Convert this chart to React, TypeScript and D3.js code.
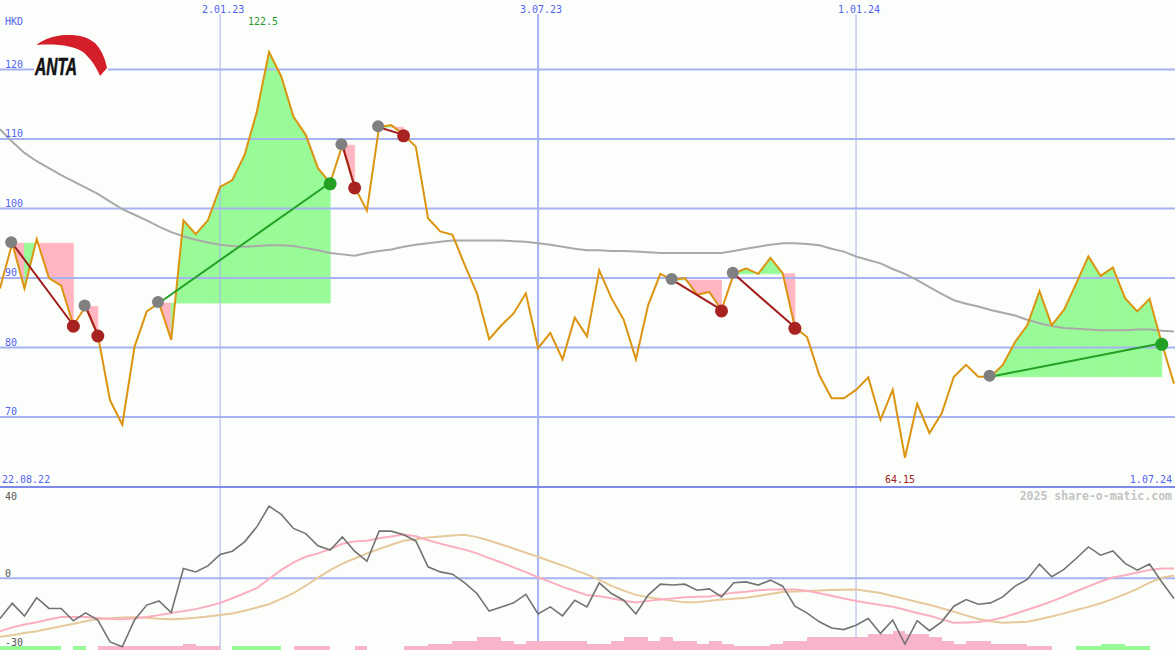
import React from 'react';
import * as d3 from 'd3';

const W = 1175;
const H = 650;

// weekly closes, first week 29.08.22
const price = [88.5, 95.0, 88.5, 95.6, 90.0, 88.9, 83.2, 85.9, 81.8, 72.4,
  68.9, 80.1, 85.2, 86.4, 81.1, 98.3, 96.3, 98.3, 103.1, 104.1,
  107.7, 113.9, 122.5, 119.0, 113.2, 110.6, 105.8, 103.7, 109.1, 103.1,
  99.7, 111.7, 112.0, 110.6, 108.9, 98.6, 96.7, 96.2, 91.9, 87.8,
  81.2, 83.2, 84.9, 87.8, 79.9, 82.1, 78.3, 84.3, 81.6, 91.1,
  87.1, 84.0, 78.3, 86.1, 90.6, 89.7, 90.0, 87.6, 88.0, 85.4,
  90.6, 91.4, 90.6, 92.9, 90.7, 82.9, 81.5, 76.0, 72.7, 72.7,
  73.9, 75.7, 69.6, 73.9, 64.15, 71.9, 67.7, 70.5, 75.8, 77.5,
  75.8, 75.8, 77.5, 80.8, 83.2, 88.1, 83.2, 85.4, 89.2, 93.1,
  90.3, 91.5, 87.1, 85.2, 87.0, 80.6, 74.8];

// long moving average (grey)
const avg = [111.4, 109.6, 108.0, 106.8, 105.8, 104.8, 103.9, 103.0, 102.1, 101.0,
  99.9, 99.1, 98.3, 97.4, 96.6, 96.0, 95.5, 95.1, 94.8, 94.6,
  94.5, 94.6, 94.7, 94.7, 94.6, 94.3, 94.0, 93.6, 93.4, 93.2,
  93.6, 93.9, 94.1, 94.5, 94.8, 95.0, 95.2, 95.4, 95.4, 95.4,
  95.4, 95.4, 95.3, 95.2, 95.0, 94.8, 94.5, 94.2, 94.0, 94.0,
  93.9, 93.9, 93.8, 93.7, 93.6, 93.6, 93.6, 93.6, 93.6, 93.6,
  93.9, 94.2, 94.5, 94.8, 95.0, 95.0, 94.9, 94.7, 94.2, 93.8,
  93.1, 92.6, 92.1, 91.3, 90.6, 89.7, 88.7, 87.7, 86.8, 86.3,
  85.9, 85.4, 85.0, 84.6, 84.0, 83.5, 83.1, 82.8, 82.7, 82.6,
  82.5, 82.5, 82.5, 82.6, 82.6, 82.4, 82.3];

// lower panel: oscillator + two smoothings
const osc = [-18.1, -11.3, -17.0, -8.8, -13.6, -13.6, -19.1, -15.6, -18.8, -28.6,
  -30.8, -18.8, -12.1, -10.2, -15.4, 4.3, 2.8, 5.5, 10.6, 12.1,
  16.3, 23.0, 32.3, 28.6, 22.3, 20.0, 14.5, 12.6, 18.5, 12.1,
  7.6, 21.1, 21.1, 19.5, 16.7, 5.1, 2.8, 1.8, -2.1, -6.9,
  -14.8, -12.9, -11.1, -7.3, -16.1, -12.9, -16.9, -9.9, -12.9, -2.1,
  -6.9, -9.9, -16.1, -7.6, -2.7, -3.1, -2.7, -5.4, -4.8, -8.4,
  -2.1, -1.7, -3.1, -0.9, -3.6, -12.6, -15.7, -19.6, -22.4, -23.1,
  -21.1, -18.1, -24.8, -18.8, -29.6, -19.1, -23.6, -19.6, -12.6, -9.6,
  -11.7, -11.1, -8.4, -3.6, -0.6, 6.3, 0.6, 3.9, 8.8, 14.0,
  10.3, 12.2, 6.6, 3.6, 6.3, -1.7, -9.1];

const signalFast = [-23.8, -22.1, -20.8, -19.8, -18.6, -17.4, -17.4, -17.4, -17.9, -18.3,
  -18.5, -18.0, -17.4, -16.6, -15.6, -14.8, -13.9, -12.6, -11.1, -9.0,
  -6.8, -4.5, -0.4, 3.7, 7.1, 9.6, 11.1, 13.0, 15.4, 16.5,
  16.8, 17.9, 18.7, 19.6, 18.8, 17.0, 15.5, 14.1, 12.8, 11.1,
  9.0, 7.0, 4.8, 2.7, 0.4, -1.7, -3.9, -5.8, -7.6, -8.1,
  -9.0, -10.1, -10.9, -10.2, -9.6, -9.1, -8.6, -8.3, -8.2, -7.4,
  -6.5, -6.1, -5.4, -5.1, -5.1, -5.1, -5.7, -6.8, -7.9, -9.1,
  -10.3, -11.2, -12.1, -12.8, -14.2, -15.6, -16.9, -18.5, -20.0, -19.9,
  -19.7, -18.9, -17.7, -16.0, -14.2, -12.4, -10.4, -8.3, -5.9, -3.7,
  -1.5, 0.3, 1.3, 2.5, 3.7, 4.3, 4.3];

const signalSlow = [-26.3, -25.6, -24.6, -23.8, -22.7, -21.6, -20.5, -19.3, -18.3, -18.0,
  -17.7, -17.5, -17.8, -18.2, -18.5, -18.2, -17.8, -17.2, -16.5, -15.9,
  -14.6, -13.2, -11.7, -9.3, -6.7, -3.4, 0.2, 3.6, 6.5, 8.8,
  11.1, 13.1, 15.0, 16.8, 17.5, 18.2, 18.7, 19.1, 19.5, 18.4,
  16.9, 15.1, 13.3, 11.4, 9.6, 7.6, 5.7, 3.6, 1.7, -0.8,
  -3.5, -5.6, -7.5, -8.6, -9.4, -10.2, -10.8, -10.8, -10.2, -9.6,
  -9.2, -8.8, -8.0, -7.1, -6.2, -6.0, -5.8, -5.5, -5.3, -5.2,
  -5.1, -5.9, -6.7, -8.0, -9.3, -10.7, -11.9, -13.5, -15.1, -16.7,
  -18.3, -19.3, -20.0, -19.8, -19.6, -18.4, -17.2, -15.8, -14.3, -12.9,
  -11.3, -9.3, -7.2, -4.8, -2.0, 0.2, 1.2];

// bottom histogram blocks, + green / - pink
const hist = [1, 1, 1, 1, 1, 0, 1, 0, -1, -1,
  -1, -1, -1, -1, -1, -2, -1, -1, 0, 1,
  1, 1, 1, 0, -1, -1, -1, 0, 0, -1,
  0, 0, 0, -1, -1, -2, -2, -3, -3, -4,
  -4, -3, -2, -3, -3, -3, -3, -3, -2, -2,
  -3, -4, -4, -3, -4, -3, -3, -2, -3, -2,
  -1, -1, -1, -2, -3, -3, -4, -4, -4, -4,
  -4, -5, -5, -6, -5, -5, -4, -3, -2, -3,
  -3, -2, -2, -2, -1, -1, 0, 0, 1, 1,
  2, 2, 1, 1, 0, 0];

// buy (entry) / sell (exit) week indexes
const trades = [
  { entry: 1, exit: 6 },
  { entry: 7, exit: 8 },
  { entry: 13, exit: 27 },
  { entry: 28, exit: 29 },
  { entry: 31, exit: 33 },
  { entry: 55, exit: 59 },
  { entry: 60, exit: 65 },
  { entry: 81, exit: 95 },
];

const priceTicks = [70, 80, 90, 100, 110, 120];
const oscTicks = [40, 0, -30];
const dateTicks = [Date.UTC(2023, 0, 2), Date.UTC(2023, 6, 3), Date.UTC(2024, 0, 1)].map(d => new Date(d));
const firstLabel = '22.08.22';
const lastLabel = '1.07.24';

const start = Date.UTC(2022, 7, 29);
const dates = price.map((_, i) => d3.utcDay.offset(new Date(start), i * 7));

const BG = '#fcfefb';
const GRID = '#a6b2f2';
const BLUE = '#5364f0';
const MONO = '"DejaVu Sans Mono", monospace';

const App: React.FC = () => {
  const x = d3.scaleUtc().domain([dates[0], dates[dates.length - 1]]).range([0, 1174]);
  const y = d3.scaleLinear().domain([60, 130]).range([486.5, 0]);
  const yo = d3.scaleLinear().domain([-30, 40]).range([645, 489]);
  const hb = d3.scaleLinear().domain([0, 6]).range([0, 19]);
  const fmt = d3.utcFormat('%-d.%m.%y');

  const priceLine = d3.line<number>().x((d, i) => x(dates[i])).y(d => y(d));
  const oscLine = d3.line<number>().x((d, i) => x(dates[i])).y(d => yo(d));

  const maxI = d3.maxIndex(price);
  const minI = d3.minIndex(price);

  // trade fills, one segment per week
  const fills: { d: string; up: boolean }[] = [];
  trades.forEach(t => {
    const yE = y(price[t.entry]);
    for (let i = t.entry; i < t.exit; i++) {
      const x0 = x(dates[i]), x1 = x(dates[i + 1]);
      fills.push({
        d: `M${x0},${yE}L${x0},${y(price[i])}L${x1},${y(price[i + 1])}L${x1},${yE}Z`,
        up: price[i + 1] >= price[t.entry],
      });
    }
  });

  return (
    <svg width={W} height={H} style={{ position: 'absolute', left: 0, top: 0 }}>
      <rect width={W} height={H} fill={BG} />

      {fills.map((f, i) => {
        const c = f.up ? '#98fb98' : '#ffb6c1';
        return <path key={i} d={f.d} fill={c} stroke={c} strokeWidth={0.8} />;
      })}

      {/* grid */}
      {priceTicks.map(v => (
        <line key={v} x1={0} x2={W} y1={y(v)} y2={y(v)} stroke={GRID} strokeWidth={2} />
      ))}
      {dateTicks.map(d => (
        <line key={+d} x1={x(d)} x2={x(d)} y1={14} y2={H} stroke={GRID}
          strokeWidth={d.getUTCMonth() === 6 ? 2 : 1} />
      ))}
      <line x1={0} x2={W} y1={487} y2={487} stroke="#7d8ae8" strokeWidth={2} />
      <line x1={0} x2={W} y1={yo(0)} y2={yo(0)} stroke={GRID} strokeWidth={2} />

      <path d={priceLine(avg) || ''} fill="none" stroke="#a9a9a9" strokeWidth={2} />
      <path d={priceLine(price) || ''} fill="none" stroke="#dc9410" strokeWidth={2} />

      {trades.map((t, i) => {
        const up = price[t.exit] > price[t.entry];
        return (
          <g key={i}>
            <line x1={x(dates[t.entry])} y1={y(price[t.entry])} x2={x(dates[t.exit])} y2={y(price[t.exit])}
              stroke={up ? '#23a023' : '#a31c1c'} strokeWidth={2} />
            <circle cx={x(dates[t.entry]) - 1} cy={y(price[t.entry]) - 1} r={6} fill="#808080" />
            <circle cx={x(dates[t.exit])} cy={y(price[t.exit]) + 1} r={6.5} fill={up ? '#23a023' : '#a82222'} />
          </g>
        );
      })}

      {/* lower panel */}
      {hist.map((v, i) => v === 0 ? null : (
        <rect key={i} x={x(dates[i])} width={x(dates[i + 1]) - x(dates[i])}
          y={H - hb(Math.abs(v)) - (Math.abs(v) === 1 ? 0.4 : 0)} height={hb(Math.abs(v)) + (Math.abs(v) === 1 ? 0.4 : 0)}
          fill={v > 0 ? '#98fb98' : '#f8b4c8'} shapeRendering="crispEdges" />
      ))}
      <path d={oscLine(signalSlow) || ''} fill="none" stroke="#e6c99c" strokeWidth={2} />
      <path d={oscLine(signalFast) || ''} fill="none" stroke="#fbaec0" strokeWidth={2} />
      <path d={oscLine(osc) || ''} fill="none" stroke="#737373" strokeWidth={1.6} />

      {/* logo */}
      <rect x={34} y={32} width={74} height={46} fill={BG} />
      <path d="M36.5,45 C44,39 54,35.5 66,35 C78,34.5 88,37 95,43 C101,49 105,58 107,68 L100,76 C96,66 90,58 83,52 C74,46 58,43.5 36.5,45 Z"
        fill="#d41f2b" />
      <text x={35} y={75} fontFamily="Liberation Sans, Arial, sans-serif" fontWeight="bold" fontStyle="italic"
        fontSize={24} textLength={42} lengthAdjust="spacingAndGlyphs" fill="#111" stroke="#111" strokeWidth={0.6}>ANTA</text>

      {/* labels */}
      <g fontFamily={MONO} fontSize={10}>
        <text x={5} y={25} fill={BLUE}>HKD</text>
        {priceTicks.map(v => (
          <text key={v} x={5} y={y(v) - 2} fill={BLUE}>{v}</text>
        ))}
        {dateTicks.map(d => (
          <text key={+d} x={x(d) + 3} y={13} textAnchor="middle" fill={BLUE}>{fmt(d)}</text>
        ))}
        <text x={2} y={483} fill={BLUE}>{firstLabel}</text>
        <text x={1172} y={483} textAnchor="end" fill={BLUE}>{lastLabel}</text>
        <text x={x(dates[maxI]) - 6} y={25} textAnchor="middle" fill="#2a9a2a">{price[maxI]}</text>
        <text x={x(dates[minI]) - 5} y={483} textAnchor="middle" fill="#a02020">{price[minI]}</text>
        {oscTicks.map(v => (
          <text key={v} x={5} y={v === 40 ? 500 : v === 0 ? 577 : 646} fill="#555">{v}</text>
        ))}
      </g>
      <text x={1172} y={500} textAnchor="end" fontFamily={MONO} fontWeight="bold" fontSize={11.5}
        fill="#c4c4c4">2025 share-o-matic.com</text>
    </svg>
  );
};

export default App;
